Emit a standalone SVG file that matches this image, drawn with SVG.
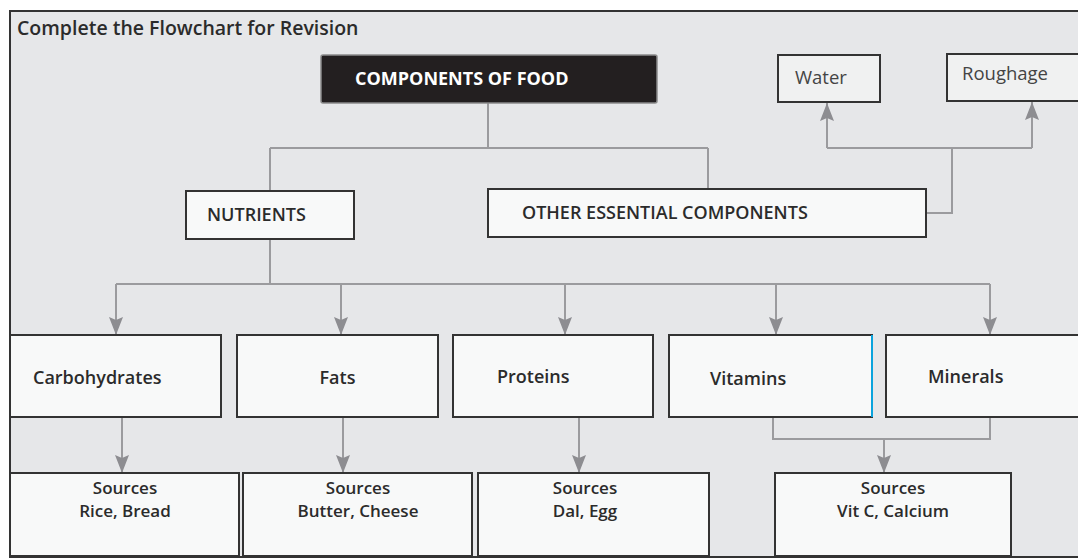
<svg xmlns="http://www.w3.org/2000/svg" width="1078" height="560" viewBox="0 0 1078 560">
<style>
.box{fill:#f8f9f9;stroke:#333;stroke-width:2}
.sbox{fill:#f0f1f1;stroke:#333;stroke-width:2}
.t{font-family:"Open Sans","Liberation Sans",sans-serif;font-weight:600;font-size:18px;fill:#2b2b2b}
.s{font-size:17px}
.c{text-anchor:middle}
.ln{fill:none;stroke:#9b9b9e;stroke-width:2}
</style>
<defs>
<marker id="ah" viewBox="0 0 18 14" refX="18" refY="7" markerWidth="18" markerHeight="14" orient="auto" markerUnits="userSpaceOnUse">
<path d="M0,0 L18,7 L0,14 L3,7 z" fill="#8d8d91"/>
</marker>
</defs>
<rect x="0" y="0" width="1078" height="560" fill="#ffffff"/>
<rect x="10" y="11" width="1080" height="546" fill="#e6e7e9" stroke="#333" stroke-width="2"/>
<text x="17" y="35" class="t" style="font-size:19.5px">Complete the Flowchart for Revision</text>

<g id="connectors">
<path class="ln" d="M488,103 V148 M270,148 H708 M270,148 V191 M708,148 V189"/>
<path class="ln" d="M926,213 H952 V148 M827,148 H1032"/>
<path class="ln" d="M827,148 V103" marker-end="url(#ah)"/>
<path class="ln" d="M1032,148 V102" marker-end="url(#ah)"/>
<path class="ln" d="M270,239 V284 M116,284 H990"/>
<path class="ln" d="M116,284 V335" marker-end="url(#ah)"/>
<path class="ln" d="M341,284 V335" marker-end="url(#ah)"/>
<path class="ln" d="M565,284 V335" marker-end="url(#ah)"/>
<path class="ln" d="M776,284 V335" marker-end="url(#ah)"/>
<path class="ln" d="M990,284 V335" marker-end="url(#ah)"/>
<path class="ln" d="M122,417 V473" marker-end="url(#ah)"/>
<path class="ln" d="M343,417 V473" marker-end="url(#ah)"/>
<path class="ln" d="M579,417 V473" marker-end="url(#ah)"/>
<path class="ln" d="M773,417 V439 H990 V417"/>
<path class="ln" d="M884,439 V473" marker-end="url(#ah)"/>
</g>

<g id="components">
<rect x="321" y="55" width="336" height="48" rx="2" fill="#231f20" stroke="#8a8a8a" stroke-width="1.5"/>
<text x="355" y="85" class="t" style="fill:#ffffff;font-weight:700">COMPONENTS OF FOOD</text>
</g>
<g id="water">
<rect x="778" y="55" width="102" height="47" class="sbox"/>
<text x="795" y="84" class="t" style="font-weight:400;fill:#444;font-size:18.5px">Water</text>
</g>
<g id="roughage">
<rect x="947" y="54" width="140" height="47" class="sbox"/>
<text x="962" y="80" class="t" style="font-weight:400;fill:#444;font-size:18.5px">Roughage</text>
</g>
<g id="nutrients">
<rect x="186" y="191" width="168" height="48" class="box"/>
<text x="207" y="221" class="t">NUTRIENTS</text>
</g>
<g id="other">
<rect x="488" y="189" width="438" height="48" class="box"/>
<text x="522" y="219" class="t">OTHER ESSENTIAL COMPONENTS</text>
</g>

<g id="carbohydrates">
<rect x="10" y="335" width="211" height="82" class="box"/>
<text x="33" y="384" class="t">Carbohydrates</text>
</g>
<g id="fats">
<rect x="237" y="335" width="201" height="82" class="box"/>
<text x="337.5" y="384" class="t c">Fats</text>
</g>
<g id="proteins">
<rect x="453" y="335" width="200" height="82" class="box"/>
<text x="497" y="383" class="t">Proteins</text>
</g>
<g id="vitamins">
<rect x="669" y="335" width="203" height="82" class="box"/>
<line x1="872" y1="335" x2="872" y2="417" stroke="#0aa3dd" stroke-width="2"/>
<text x="710" y="385" class="t">Vitamins</text>
</g>
<g id="minerals">
<rect x="886" y="335" width="200" height="82" class="box"/>
<text x="928" y="383" class="t">Minerals</text>
</g>

<g id="src-carb">
<rect x="10" y="473" width="229" height="83" class="box"/>
<text x="125" y="494" class="t s c">Sources</text>
<text x="125" y="517" class="t s c">Rice, Bread</text>
</g>
<g id="src-fats">
<rect x="243" y="473" width="229" height="83" class="box"/>
<text x="358" y="494" class="t s c">Sources</text>
<text x="358" y="517" class="t s c">Butter, Cheese</text>
</g>
<g id="src-proteins">
<rect x="478" y="473" width="231" height="83" class="box"/>
<text x="585" y="494" class="t s c">Sources</text>
<text x="585" y="517" class="t s c">Dal, Egg</text>
</g>
<g id="src-vitmin">
<rect x="775" y="473" width="236" height="83" class="box"/>
<text x="893" y="494" class="t s c">Sources</text>
<text x="893" y="517" class="t s c">Vit C, Calcium</text>
</g>
</svg>
